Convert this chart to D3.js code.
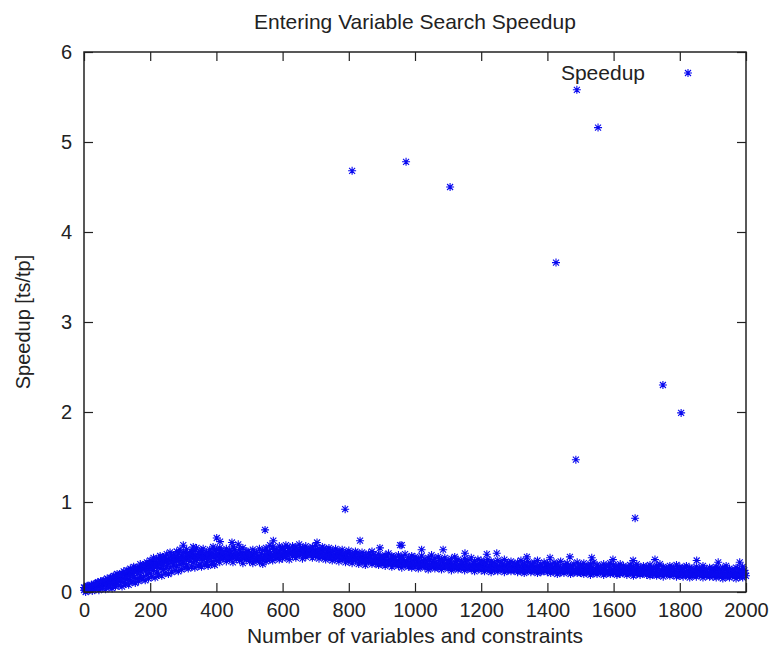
<!DOCTYPE html>
<html>
<head>
<meta charset="utf-8">
<script src="https://cdn.jsdelivr.net/npm/d3@7"></script>
<style>
  body { margin: 0; background: #fff; }
  svg text { font-family: "Liberation Sans", Arial, Helvetica, sans-serif; fill: #222; }
</style>
</head>
<body>
<svg width="776" height="661"></svg>
<script>
// x of the dense series goes up in steps of 5 variables
var step = 5;

// speedup readings, one every 5 units from 0 to 2000
var speedup = [
  0.02, 0.05, 0.03, 0.07, 0.04, 0.06, 0.05, 0.09, 0.06, 0.10, 0.05, 0.11, 0.08, 0.13, 0.07, 0.12, 0.10, 0.16, 0.09, 0.18,
  0.10, 0.19, 0.12, 0.21, 0.11, 0.17, 0.14, 0.24, 0.13, 0.22, 0.16, 0.27, 0.15, 0.25, 0.18, 0.29, 0.17, 0.31, 0.20, 0.28,
  0.21, 0.34, 0.24, 0.31, 0.22, 0.37, 0.26, 0.35, 0.25, 0.39, 0.28, 0.36, 0.27, 0.41, 0.30, 0.38, 0.29, 0.43, 0.31, 0.40,
  0.32, 0.44, 0.30, 0.41, 0.34, 0.45, 0.33, 0.39, 0.35, 0.43, 0.31, 0.46, 0.36, 0.40, 0.33, 0.44, 0.37, 0.42, 0.34, 0.47,
  0.35, 0.43, 0.33, 0.46, 0.38, 0.41, 0.34, 0.45, 0.36, 0.40, 0.33, 0.47, 0.37, 0.42, 0.35, 0.44, 0.32, 0.41, 0.36, 0.45,
  0.34, 0.42, 0.32, 0.44, 0.35, 0.39, 0.33, 0.43, 0.31, 0.40, 0.34, 0.45, 0.36, 0.41, 0.35, 0.47, 0.38, 0.43, 0.36, 0.48,
  0.37, 0.46, 0.39, 0.50, 0.36, 0.44, 0.40, 0.48, 0.38, 0.45, 0.41, 0.49, 0.37, 0.47, 0.39, 0.43, 0.42, 0.48, 0.38, 0.46,
  0.40, 0.47, 0.37, 0.45, 0.39, 0.48, 0.36, 0.44, 0.38, 0.46, 0.35, 0.42, 0.37, 0.45, 0.34, 0.43, 0.36, 0.41, 0.33, 0.44,
  0.34, 0.42, 0.32, 0.40, 0.35, 0.43, 0.31, 0.39, 0.33, 0.41, 0.30, 0.38, 0.34, 0.40, 0.31, 0.42, 0.32, 0.37, 0.30, 0.39,
  0.31, 0.38, 0.29, 0.40, 0.32, 0.36, 0.28, 0.39, 0.30, 0.35, 0.29, 0.38, 0.27, 0.36, 0.30, 0.34, 0.28, 0.37, 0.27, 0.35,
  0.28, 0.36, 0.26, 0.33, 0.29, 0.35, 0.27, 0.32, 0.25, 0.36, 0.28, 0.34, 0.26, 0.31, 0.27, 0.35, 0.25, 0.33, 0.28, 0.32,
  0.26, 0.33, 0.24, 0.31, 0.27, 0.34, 0.25, 0.30, 0.26, 0.32, 0.24, 0.33, 0.27, 0.29, 0.25, 0.32, 0.23, 0.30, 0.26, 0.31,
  0.24, 0.31, 0.23, 0.33, 0.25, 0.29, 0.22, 0.32, 0.24, 0.30, 0.23, 0.28, 0.25, 0.31, 0.22, 0.29, 0.24, 0.32, 0.23, 0.28,
  0.24, 0.30, 0.22, 0.28, 0.23, 0.31, 0.21, 0.29, 0.24, 0.27, 0.22, 0.30, 0.23, 0.28, 0.21, 0.29, 0.22, 0.27, 0.24, 0.30,
  0.22, 0.29, 0.21, 0.27, 0.23, 0.30, 0.20, 0.28, 0.22, 0.26, 0.21, 0.29, 0.23, 0.27, 0.20, 0.28, 0.22, 0.25, 0.21, 0.29,
  0.21, 0.28, 0.20, 0.26, 0.22, 0.29, 0.19, 0.27, 0.21, 0.25, 0.20, 0.28, 0.22, 0.26, 0.19, 0.27, 0.21, 0.29, 0.20, 0.25,
  0.21, 0.27, 0.19, 0.28, 0.20, 0.25, 0.22, 0.27, 0.19, 0.26, 0.21, 0.28, 0.18, 0.25, 0.20, 0.27, 0.19, 0.24, 0.21, 0.26,
  0.19, 0.27, 0.18, 0.25, 0.20, 0.26, 0.18, 0.28, 0.19, 0.24, 0.17, 0.26, 0.20, 0.25, 0.18, 0.27, 0.19, 0.23, 0.17, 0.26,
  0.18, 0.25, 0.17, 0.27, 0.19, 0.24, 0.16, 0.26, 0.18, 0.23, 0.17, 0.25, 0.19, 0.24, 0.16, 0.26, 0.18, 0.22, 0.17, 0.25,
  0.17, 0.24, 0.16, 0.26, 0.18, 0.23, 0.15, 0.25, 0.17, 0.22, 0.16, 0.24, 0.18, 0.23, 0.15, 0.26, 0.17, 0.21, 0.16, 0.24,
  0.18
];

// second pass of readings, taken half a step later (2.5, 7.5, ... 1997.5)
var speedupMid = [
  0.04, 0.03, 0.06, 0.05, 0.08, 0.05, 0.07, 0.08, 0.11, 0.07, 0.09, 0.12, 0.10, 0.11, 0.14, 0.10, 0.13, 0.15, 0.12, 0.16,
  0.14, 0.16, 0.19, 0.15, 0.20, 0.18, 0.21, 0.19, 0.23, 0.18, 0.22, 0.24, 0.21, 0.26, 0.23, 0.25, 0.28, 0.24, 0.27, 0.30,
  0.27, 0.30, 0.28, 0.33, 0.29, 0.31, 0.34, 0.30, 0.33, 0.36, 0.32, 0.35, 0.33, 0.37, 0.34, 0.36, 0.39, 0.35, 0.38, 0.36,
  0.38, 0.36, 0.40, 0.37, 0.39, 0.42, 0.38, 0.41, 0.37, 0.40, 0.39, 0.42, 0.38, 0.41, 0.39, 0.37, 0.40, 0.43, 0.39, 0.41,
  0.40, 0.38, 0.41, 0.39, 0.42, 0.37, 0.40, 0.39, 0.43, 0.38, 0.41, 0.39, 0.40, 0.37, 0.42, 0.38, 0.40, 0.39, 0.41, 0.38,
  0.39, 0.37, 0.40, 0.36, 0.38, 0.37, 0.39, 0.36, 0.38, 0.40, 0.37, 0.41, 0.39, 0.38, 0.42, 0.40, 0.41, 0.43, 0.40, 0.42,
  0.42, 0.44, 0.41, 0.43, 0.45, 0.42, 0.44, 0.41, 0.43, 0.46, 0.42, 0.44, 0.43, 0.41, 0.45, 0.42, 0.44, 0.43, 0.41, 0.44,
  0.43, 0.41, 0.42, 0.44, 0.40, 0.42, 0.41, 0.39, 0.42, 0.40, 0.41, 0.38, 0.40, 0.39, 0.41, 0.38, 0.39, 0.37, 0.40, 0.38,
  0.38, 0.36, 0.37, 0.39, 0.36, 0.38, 0.35, 0.37, 0.36, 0.34, 0.37, 0.35, 0.36, 0.34, 0.36, 0.35, 0.33, 0.35, 0.34, 0.33,
  0.34, 0.33, 0.35, 0.32, 0.34, 0.31, 0.33, 0.32, 0.34, 0.31, 0.32, 0.33, 0.30, 0.32, 0.31, 0.30, 0.32, 0.31, 0.30, 0.31,
  0.31, 0.30, 0.32, 0.29, 0.31, 0.30, 0.29, 0.31, 0.30, 0.28, 0.30, 0.29, 0.31, 0.28, 0.30, 0.29, 0.28, 0.30, 0.29, 0.28,
  0.29, 0.28, 0.30, 0.27, 0.29, 0.28, 0.27, 0.29, 0.28, 0.27, 0.29, 0.26, 0.28, 0.27, 0.29, 0.26, 0.28, 0.27, 0.26, 0.28,
  0.27, 0.26, 0.28, 0.27, 0.26, 0.28, 0.25, 0.27, 0.26, 0.28, 0.25, 0.27, 0.26, 0.25, 0.27, 0.26, 0.25, 0.27, 0.26, 0.25,
  0.26, 0.25, 0.27, 0.24, 0.26, 0.25, 0.27, 0.24, 0.26, 0.25, 0.24, 0.26, 0.25, 0.24, 0.26, 0.25, 0.23, 0.25, 0.26, 0.24,
  0.25, 0.24, 0.26, 0.23, 0.25, 0.24, 0.26, 0.23, 0.24, 0.25, 0.23, 0.25, 0.24, 0.23, 0.25, 0.24, 0.22, 0.24, 0.25, 0.23,
  0.24, 0.23, 0.25, 0.22, 0.24, 0.23, 0.25, 0.22, 0.23, 0.24, 0.22, 0.24, 0.23, 0.22, 0.24, 0.23, 0.21, 0.23, 0.24, 0.22,
  0.23, 0.22, 0.24, 0.21, 0.23, 0.22, 0.24, 0.21, 0.23, 0.22, 0.21, 0.23, 0.22, 0.24, 0.21, 0.23, 0.22, 0.21, 0.23, 0.22,
  0.22, 0.21, 0.23, 0.20, 0.22, 0.21, 0.23, 0.20, 0.22, 0.21, 0.20, 0.22, 0.21, 0.23, 0.20, 0.22, 0.21, 0.20, 0.22, 0.21,
  0.21, 0.20, 0.22, 0.19, 0.21, 0.20, 0.22, 0.19, 0.21, 0.20, 0.19, 0.21, 0.20, 0.22, 0.19, 0.21, 0.20, 0.19, 0.21, 0.20,
  0.20, 0.19, 0.21, 0.18, 0.20, 0.19, 0.21, 0.18, 0.20, 0.19, 0.18, 0.20, 0.19, 0.21, 0.18, 0.20, 0.19, 0.18, 0.20, 0.21
];

// upper edge of the band, one reading every 10 units (0 .. 1990)
var speedupTop = [
  0.05, 0.07, 0.06, 0.09, 0.10, 0.12, 0.13, 0.15, 0.16, 0.18, 0.20, 0.19, 0.23, 0.24, 0.26, 0.28, 0.27, 0.31, 0.30, 0.33,
  0.35, 0.38, 0.37, 0.40, 0.39, 0.42, 0.44, 0.41, 0.45, 0.47, 0.44, 0.47, 0.43, 0.46, 0.49, 0.45, 0.48, 0.44, 0.47, 0.50,
  0.47, 0.49, 0.45, 0.48, 0.46, 0.50, 0.44, 0.47, 0.49, 0.45, 0.43, 0.47, 0.44, 0.48, 0.46, 0.49, 0.45, 0.50, 0.47, 0.51,
  0.49, 0.52, 0.48, 0.51, 0.50, 0.53, 0.49, 0.51, 0.48, 0.50, 0.52, 0.48, 0.50, 0.47, 0.49, 0.46, 0.48, 0.45, 0.47, 0.44,
  0.46, 0.43, 0.45, 0.42, 0.44, 0.41, 0.43, 0.45, 0.40, 0.42, 0.39, 0.41, 0.43, 0.40, 0.38, 0.41, 0.39, 0.42, 0.38, 0.40,
  0.39, 0.37, 0.40, 0.36, 0.38, 0.41, 0.37, 0.39, 0.36, 0.38, 0.35, 0.37, 0.39, 0.36, 0.34, 0.37, 0.35, 0.38, 0.34, 0.36,
  0.35, 0.33, 0.36, 0.34, 0.32, 0.35, 0.33, 0.36, 0.32, 0.34, 0.31, 0.33, 0.35, 0.32, 0.34, 0.31, 0.33, 0.35, 0.31, 0.33,
  0.32, 0.30, 0.33, 0.31, 0.34, 0.30, 0.32, 0.29, 0.31, 0.33, 0.30, 0.32, 0.29, 0.31, 0.33, 0.30, 0.28, 0.31, 0.29, 0.32,
  0.30, 0.28, 0.31, 0.29, 0.27, 0.30, 0.28, 0.31, 0.27, 0.29, 0.28, 0.30, 0.27, 0.29, 0.31, 0.28, 0.26, 0.29, 0.27, 0.30,
  0.28, 0.26, 0.29, 0.27, 0.25, 0.28, 0.26, 0.29, 0.25, 0.27, 0.26, 0.28, 0.25, 0.27, 0.29, 0.26, 0.24, 0.27, 0.25, 0.28
];

// lower edge of the rising part, one reading every 10 units (5 .. 395)
var speedupLow = [
  0.00, 0.02, 0.01, 0.03, 0.02, 0.04, 0.03, 0.05, 0.04, 0.06, 0.07, 0.06, 0.09, 0.08, 0.11, 0.10, 0.12, 0.14, 0.13, 0.15,
  0.17, 0.16, 0.19, 0.18, 0.21, 0.20, 0.22, 0.24, 0.23, 0.25, 0.27, 0.26, 0.28, 0.27, 0.29, 0.28, 0.30, 0.29, 0.31, 0.30
];

// the scattered higher points sitting just above the band
var spikeX = [300, 330, 401, 411, 447, 466, 547, 562, 572, 704, 834, 894, 955, 960, 1020, 1085, 1151, 1217, 1247,
              1338, 1408, 1468, 1534, 1598, 1659, 1725, 1851, 1916, 1981];
var spikeY = [0.52, 0.50, 0.60, 0.56, 0.55, 0.53, 0.69, 0.52, 0.57, 0.55, 0.57, 0.49, 0.52, 0.52, 0.47, 0.47, 0.43, 0.42, 0.43,
              0.39, 0.38, 0.39, 0.38, 0.36, 0.35, 0.36, 0.35, 0.33, 0.33];

// the big outliers
var outlierX = [789, 810, 973, 1106, 1426, 1486, 1489, 1553, 1665, 1749, 1804];
var outlierY = [0.92, 4.68, 4.78, 4.50, 3.66, 1.47, 5.58, 5.16, 0.82, 2.30, 1.99];

var xTicks = [0, 200, 400, 600, 800, 1000, 1200, 1400, 1600, 1800, 2000];
var yTicks = [0, 1, 2, 3, 4, 5, 6];

var svg = d3.select("svg"),
    margin = {top: 52, right: 30, bottom: 69, left: 84},
    width = +svg.attr("width"),
    height = +svg.attr("height");

var x = d3.scaleLinear().domain([0, 2000]).range([margin.left, width - margin.right]);
var y = d3.scaleLinear().domain([0, 6]).range([height - margin.bottom, margin.top]);

var points = [];
speedup.forEach(function(v, i) { points.push([i * step, v]); });
speedupMid.forEach(function(v, i) { points.push([i * step + step / 2, v]); });
speedupTop.forEach(function(v, i) { points.push([i * 2 * step, v]); });
speedupLow.forEach(function(v, i) { points.push([i * 2 * step + step, v]); });
spikeX.forEach(function(v, i) { points.push([v, spikeY[i]]); });
outlierX.forEach(function(v, i) { points.push([v, outlierY[i]]); });

// gnuplot style "*" point: a plus and a cross on top of each other
var star = "M-4,0H4M0,-4V4M-3,-3L3,3M-3,3L3,-3";
var blue = "#0a0af0";

svg.append("g")
  .selectAll("path")
  .data(points)
  .enter().append("path")
    .attr("d", star)
    .attr("transform", function(d) { return "translate(" + x(d[0]) + "," + y(d[1]) + ")"; })
    .attr("fill", "none")
    .attr("stroke", blue)
    .attr("stroke-width", 1.1);

// axes, ticks point inwards on all four sides
var tick = 9;
var fmt = d3.format("d");
var axisStyle = function(g) {
  g.select(".domain").remove();
  g.selectAll(".tick line").attr("stroke", "#222").attr("stroke-width", 1.2);
  g.selectAll(".tick text").style("font-size", "20px").attr("fill", "#222");
};

svg.append("g")
    .attr("transform", "translate(0," + y(0) + ")")
    .call(d3.axisBottom(x).tickValues(xTicks).tickFormat(fmt).tickSizeInner(-tick).tickSizeOuter(0).tickPadding(11))
    .call(axisStyle);

svg.append("g")
    .attr("transform", "translate(0," + y(6) + ")")
    .call(d3.axisTop(x).tickValues(xTicks).tickSizeInner(-tick).tickSizeOuter(0).tickFormat(""))
    .call(axisStyle);

svg.append("g")
    .attr("transform", "translate(" + x(0) + ",0)")
    .call(d3.axisLeft(y).tickValues(yTicks).tickFormat(fmt).tickSizeInner(-tick).tickSizeOuter(0).tickPadding(12))
    .call(axisStyle);

svg.append("g")
    .attr("transform", "translate(" + x(2000) + ",0)")
    .call(d3.axisRight(y).tickValues(yTicks).tickSizeInner(-tick).tickSizeOuter(0).tickFormat(""))
    .call(axisStyle);

svg.append("rect")
    .attr("x", x(0))
    .attr("y", y(6))
    .attr("width", x(2000) - x(0))
    .attr("height", y(0) - y(6))
    .attr("fill", "none")
    .attr("stroke", "#222")
    .attr("stroke-width", 1.5);

// titles
svg.append("text")
    .attr("x", (x(0) + x(2000)) / 2)
    .attr("y", 29)
    .attr("text-anchor", "middle")
    .style("font-size", "21px")
    .text("Entering Variable Search Speedup");

svg.append("text")
    .attr("x", (x(0) + x(2000)) / 2)
    .attr("y", 643)
    .attr("text-anchor", "middle")
    .style("font-size", "21px")
    .text("Number of variables and constraints");

svg.append("text")
    .attr("transform", "translate(30," + (y(0) + y(6)) / 2 + ") rotate(-90)")
    .attr("text-anchor", "middle")
    .style("font-size", "20px")
    .text("Speedup [ts/tp]");

// key
svg.append("text")
    .attr("x", 645)
    .attr("y", 80)
    .attr("text-anchor", "end")
    .style("font-size", "21px")
    .text("Speedup");

svg.append("path")
    .attr("d", star)
    .attr("transform", "translate(688,73)")
    .attr("fill", "none")
    .attr("stroke", blue)
    .attr("stroke-width", 1.1);
</script>
</body>
</html>
